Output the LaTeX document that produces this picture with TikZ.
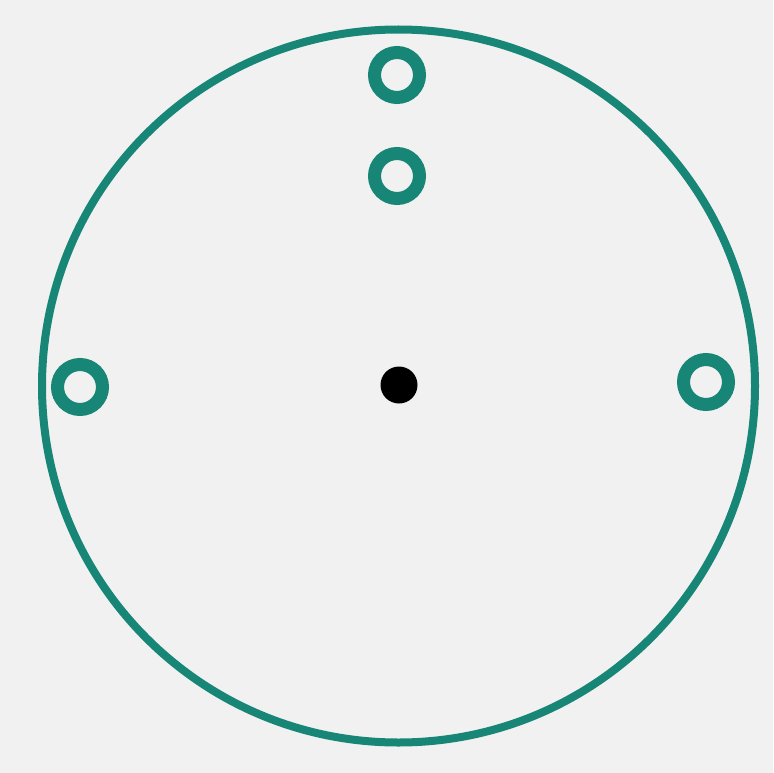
\documentclass[tikz,border=0pt]{standalone}
\usepackage{tikz}
\usetikzlibrary{positioning}
\definecolor{teal}{RGB}{24,134,118}
\definecolor{bg}{RGB}{241,241,241}
\tikzset{
  rim/.style  = {draw=teal, line width=8pt, circle, inner sep=0pt, minimum size=713pt},
  ring/.style = {draw=teal, line width=13pt, circle, inner sep=0pt, minimum size=45pt},
  hub/.style  = {fill=black, circle, inner sep=0pt, minimum size=37pt},
}
\begin{document}
\begin{tikzpicture}[x=1pt, y=-1pt]
  % canvas
  \fill[bg] (0,0) rectangle (773,773);
  \useasboundingbox (0,0) rectangle (773,773);
  % outer circle and centre
  \node[rim] (disc) at (398.5,386) {};
  \node[hub] (centre) at (399,385) {};
  % small rings
  \node[ring] (top1) at (397,75) {};
  \node[ring] (top2) at (397,176) {};
  \node[ring] (left) at (80,387) {};
  \node[ring] (right) at (706,382) {};
\end{tikzpicture}
\end{document}
